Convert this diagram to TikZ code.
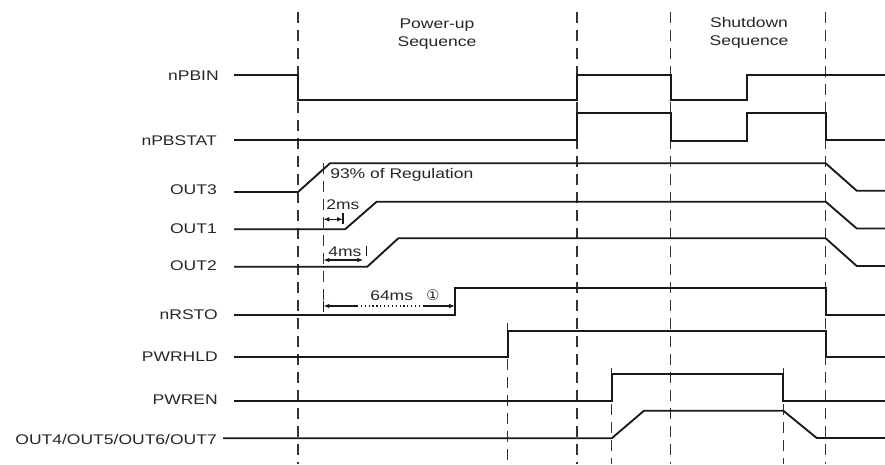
\documentclass[tikz,border=0pt]{standalone}
\usepackage{fontspec}
\setmainfont{Liberation Sans}[FakeStretch=1.25]
\newfontfamily\circfont{DejaVu Sans}
\usetikzlibrary{arrows.meta}
\tikzset{
  sig/.style={line width=1.4pt, color=black!90, line join=miter},
  guide/.style={dash pattern=on 8pt off 5.5pt, line width=1.1pt, color=black!80},
  sname/.style={anchor=east, inner sep=0.75pt, font=\fontsize{10.5}{12}\selectfont, text=black!85},
  note/.style={anchor=west, inner sep=0.75pt, font=\fontsize{10.5}{12}\selectfont, text=black!85},
  title/.style={align=center, inner sep=0.75pt, font=\fontsize{10.5}{13.5}\selectfont, text=black!85},
  dimline/.style={line width=0.9pt, color=black!90},
  dimtip/.style={-{Latex[length=4.5pt,width=3.5pt]}},
}
\begin{document}
\begin{tikzpicture}[x=0.75pt,y=0.75pt,yscale=-1,xscale=1]
\useasboundingbox (0,0) rectangle (885,464);

%Straight Lines: time marks
\draw [guide] (298,12) -- (298,464);
\draw [guide] (577,12) -- (577,464);
\draw [guide] (670.7,12) -- (670.7,464);
\draw [guide] (825.7,12) -- (825.7,464);
\draw [guide] (323.3,163) -- (323.3,306);
\draw [guide] (507.7,323) -- (507.7,464);
\draw [guide] (611.7,368) -- (611.7,464);
\draw [guide] (783.3,368) -- (783.3,464);

% Text Node
\draw (437,34) node (pwrup) [title] {Power-up\\Sequence};
% Text Node
\draw (749,33) node (shdn) [title] {Shutdown\\Sequence};

% Text Node: signal names
\draw (220,76) node (npbin) [sname] {nPBIN};
\draw (218,141) node (npbstat) [sname] {nPBSTAT};
\draw (218,190) node (out3) [sname] {OUT3};
\draw (218,229) node (out1) [sname] {OUT1};
\draw (218,266) node (out2) [sname] {OUT2};
\draw (219,315) node (nrsto) [sname] {nRSTO};
\draw (219,357) node (pwrhld) [sname] {PWRHLD};
\draw (219,400) node (pwren) [sname] {PWREN};
\draw (218,439) node (out4) [sname] {OUT4/OUT5/OUT6/OUT7};

%Waveforms
\draw [sig] (234,75) -- (298,75) -- (298,100) -- (577,100) -- (577,75) -- (670.7,75) -- (670.7,100) -- (747.3,100) -- (747.3,75) -- (885,75);
\draw [sig] (234,140) -- (577,140) -- (577,113.3) -- (670.7,113.3) -- (670.7,141) -- (747.3,141) -- (747.3,113.3) -- (825.7,113.3) -- (825.7,140) -- (885,140);
\draw [sig] (234,192) -- (298,192) -- (330,163.3) -- (825.7,163.3) -- (856.7,190.7) -- (885,190.7);
\draw [sig] (234,229.3) -- (345,229.3) -- (376.7,201.7) -- (825.7,201.7) -- (856.7,228.5) -- (885,228.5);
\draw [sig] (234,266.7) -- (367.3,266.7) -- (398.3,238.3) -- (825.7,238.3) -- (856.7,266) -- (885,266);
\draw [sig] (234,315) -- (455,315) -- (455,288.3) -- (825.7,288.3) -- (825.7,315) -- (885,315);
\draw [sig] (234,357.3) -- (507.7,357.3) -- (507.7,331) -- (825.7,331) -- (825.7,357) -- (885,357);
\draw [sig] (234,400.7) -- (611.7,400.7) -- (611.7,374) -- (783.3,374) -- (783.3,400.7) -- (885,400.7);
\draw [sig] (223,438.3) -- (611.7,438.3) -- (644,410.7) -- (783.3,410.7) -- (816.7,438) -- (885,438);

% Text Node: timing notes
\draw (329,175) node (reg) [note] {93\% of Regulation};
\draw (325,205) node (t2ms) [note] {2ms};
\draw (327,251.7) node (t4ms) [note] {4ms};
\draw (369,296) node (t64ms) [note] {64ms};
\draw (433,295.5) node (fn1) [inner sep=0.75pt, font=\circfont\fontsize{11}{12}\selectfont, text=black!85] {①};

%Dimension arrows
\coordinate (a2l) at (323.3,219.3);
\coordinate (a2r) at (343,219.3);
\draw [dimline, {Latex[length=4.5pt,width=3.5pt]}-{Latex[length=4.5pt,width=3.5pt]}] (a2l) -- (a2r);
\draw [dimline] (343,213) -- (343,224);

\coordinate (a4l) at (323.3,260);
\coordinate (a4r) at (363.3,260);
\draw [dimline, {Latex[length=4.5pt,width=3.5pt]}-{Latex[length=4.5pt,width=3.5pt]}] (a4l) -- (a4r);
\draw [dimline] (366.7,246) -- (366.7,256);

\coordinate (a64l) at (323.3,306);
\coordinate (a64m) at (357,306);
\coordinate (a64n) at (423,306);
\coordinate (a64r) at (455,306);
\draw [dimline, dimtip] (a64m) -- (a64l);
\draw [dimline, dotted] (a64m) -- (a64n);
\draw [dimline, dimtip] (a64n) -- (a64r);
\draw [dimline] (323.3,300.5) -- (323.3,311.5);

\end{tikzpicture}
\end{document}
